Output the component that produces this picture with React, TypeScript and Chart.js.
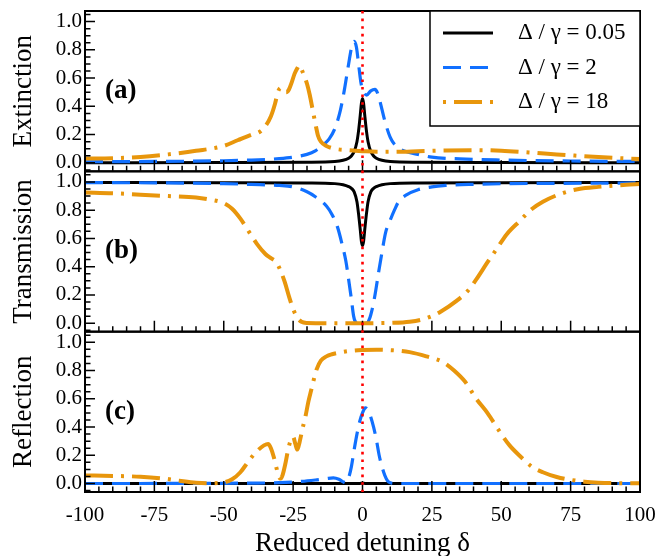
import React, { useEffect, useRef } from 'react';
import { Chart, registerables } from 'chart.js';

Chart.register(...registerables);

const FONT = "'Liberation Serif', 'Times New Roman', serif";

// ---- axes / labels ----
const xTicks = [-100, -75, -50, -25, 0, 25, 50, 75, 100];
const yTicks = [0, 0.2, 0.4, 0.6, 0.8, 1.0];
const panelTitles = ['Extinction', 'Transmission', 'Reflection'];
const panelTags = ['(a)', '(b)', '(c)'];
const seriesLabels = ['Δ / γ = 0.05', 'Δ / γ = 2', 'Δ / γ = 18'];
const xTitle = 'Reduced detuning δ';

// ---- data: [detuning, value] ----
const extinction005 = [[-100,0.001],[-50,0.002],[-20,0.004],[-10,0.009],[-7,0.018],[-5,0.033],[-4,0.049],[-3,0.08],[-2,0.15],[-1.4,0.23],[-0.8,0.34],[-0.4,0.42],[0,0.455],[0.4,0.42],[0.8,0.34],[1.4,0.23],[2,0.15],[3,0.08],[4,0.049],[5,0.033],[7,0.018],[10,0.009],[20,0.004],[50,0.002],[100,0.001]];
const extinction2 = [[-100,0.008],[-75,0.01],[-50,0.015],[-40,0.02],[-30,0.03],[-25,0.04],[-20,0.06],[-17,0.085],[-14,0.13],[-12,0.17],[-10,0.24],[-8,0.37],[-6.5,0.52],[-5,0.7],[-4,0.81],[-3,0.86],[-2.2,0.82],[-1.3,0.68],[-0.5,0.56],[0.5,0.5],[1.5,0.48],[3,0.51],[4.5,0.52],[5.5,0.49],[6.5,0.42],[8,0.3],[10,0.18],[12,0.12],[15,0.085],[20,0.06],[25,0.04],[35,0.028],[50,0.02],[75,0.013],[100,0.01]];
const extinction18 = [[-100,0.03],[-90,0.033],[-80,0.042],[-70,0.06],[-60,0.085],[-50,0.12],[-45,0.16],[-40,0.2],[-37,0.22],[-35,0.26],[-33,0.33],[-31.5,0.42],[-30.5,0.5],[-29.5,0.53],[-28.5,0.52],[-27.5,0.5],[-26.5,0.52],[-25.5,0.57],[-24.5,0.63],[-23.5,0.67],[-22.8,0.69],[-21.5,0.64],[-20,0.56],[-19,0.48],[-18,0.38],[-17,0.28],[-16,0.19],[-15,0.15],[-13,0.12],[-10,0.1],[-5,0.09],[0,0.083],[5,0.078],[10,0.078],[20,0.082],[30,0.088],[40,0.09],[50,0.086],[60,0.074],[70,0.06],[80,0.047],[90,0.036],[100,0.027]];

const transmission005 = [[-100,0.996],[-50,0.995],[-20,0.993],[-10,0.988],[-7,0.98],[-5,0.967],[-4,0.955],[-3,0.93],[-2,0.86],[-1.4,0.77],[-0.8,0.66],[-0.4,0.58],[0,0.55],[0.4,0.58],[0.8,0.66],[1.4,0.77],[2,0.86],[3,0.93],[4,0.955],[5,0.967],[7,0.98],[10,0.988],[20,0.993],[50,0.995],[100,0.996]];
const transmission2 = [[-100,0.995],[-70,0.993],[-50,0.988],[-40,0.982],[-30,0.975],[-25,0.965],[-20,0.93],[-17,0.895],[-13,0.83],[-11,0.77],[-9,0.68],[-7.5,0.57],[-6,0.44],[-5,0.31],[-4,0.17],[-3.2,0.05],[-2.5,0.01],[-1,0.0],[0,0.0],[1.5,0.0],[2.5,0.03],[3.5,0.1],[4.5,0.2],[5.8,0.36],[7,0.5],[8.3,0.64],[10,0.73],[11.5,0.8],[13,0.86],[16,0.91],[20,0.945],[25,0.965],[30,0.975],[40,0.983],[50,0.987],[70,0.99],[100,0.993]];
const transmission18 = [[-100,0.925],[-90,0.92],[-80,0.91],[-70,0.9],[-60,0.89],[-55,0.875],[-50,0.85],[-47,0.81],[-44,0.74],[-41,0.65],[-38,0.56],[-35,0.49],[-33,0.46],[-31,0.43],[-29.5,0.37],[-28,0.29],[-26.5,0.19],[-25,0.1],[-23.5,0.04],[-22,0.01],[-20,0.002],[-10,0.0],[0,0.0],[10,0.002],[17,0.01],[23,0.035],[28,0.08],[34,0.16],[38,0.23],[41,0.31],[45,0.43],[48.5,0.53],[52,0.63],[57,0.73],[60.5,0.8],[65,0.86],[72,0.92],[78,0.95],[85,0.965],[95,0.98],[100,0.985]];

const reflection005 = [[-100,0.0],[-1,0.001],[0,0.002],[1,0.001],[100,0.0]];
const reflection2 = [[-100,0.0],[-60,0.001],[-40,0.003],[-30,0.006],[-22,0.015],[-17,0.025],[-13,0.035],[-10.5,0.04],[-8.5,0.03],[-7,0.012],[-6,0.005],[-5,0.04],[-4,0.12],[-3,0.24],[-2,0.35],[-1,0.44],[0,0.5],[1,0.535],[2,0.52],[3,0.47],[4,0.4],[5,0.31],[6,0.2],[7,0.12],[8,0.06],[9,0.02],[10,0.005],[12,0.0],[100,0.0]];
const reflection18 = [[-100,0.057],[-90,0.054],[-80,0.048],[-72,0.036],[-66,0.02],[-60,0.006],[-55,0.002],[-50,0.008],[-47,0.03],[-44,0.08],[-41,0.16],[-38,0.23],[-35.5,0.27],[-34,0.28],[-33,0.25],[-32,0.19],[-31,0.11],[-30.2,0.05],[-29.5,0.035],[-28.8,0.06],[-27.8,0.14],[-26.8,0.24],[-25.8,0.31],[-25,0.33],[-24.2,0.28],[-23.5,0.24],[-22.6,0.3],[-21.6,0.39],[-20.5,0.48],[-19.5,0.58],[-18.5,0.66],[-17.5,0.74],[-16.5,0.81],[-15,0.87],[-13,0.9],[-11,0.915],[-8,0.928],[-4,0.94],[0,0.945],[5,0.947],[11,0.943],[17,0.93],[23,0.9],[29,0.86],[33,0.8],[37,0.72],[41,0.6],[45,0.5],[49,0.38],[53,0.27],[57,0.19],[61,0.12],[65,0.08],[70,0.046],[75,0.026],[80,0.013],[85,0.006],[90,0.003],[100,0.002]];

const panelIds = ['yA', 'yB', 'yC'];
const panelData = [
  [extinction005, extinction2, extinction18],
  [transmission005, transmission2, transmission18],
  [reflection005, reflection2, reflection18],
];

const seriesStyle = [
  { color: '#000000', width: 3, dash: [] as number[], legendOffset: 0, order: 3 },
  { color: '#1170ff', width: 3.2, dash: [18, 9], legendOffset: 0, order: 2 },
  { color: '#e8960c', width: 4, dash: [28, 8, 3, 8], legendOffset: 36, order: 1 },
];

const decorPlugin = {
  id: 'decor',
  afterDatasetsDraw(chart: any) {
    const ctx = chart.ctx;
    const ca = chart.chartArea;
    const xs = chart.scales.x;
    ctx.save();
    panelIds.forEach((id, i) => {
      const s = chart.scales[id];
      ctx.setLineDash([]);
      ctx.strokeStyle = '#000';
      ctx.lineWidth = 2;
      ctx.strokeRect(ca.left, s.top, ca.right - ca.left, s.bottom - s.top);
      ctx.lineWidth = 1.5;
      ctx.beginPath();
      for (let v = -95; v <= 95; v += 5) {
        const px = xs.getPixelForValue(v);
        const len = v % 25 === 0 ? 11 : 5.5;
        ctx.moveTo(px, s.bottom);
        ctx.lineTo(px, s.bottom - len);
      }
      for (let k = -1; k <= 21; k++) {
        const py = s.getPixelForValue(k * 0.05);
        if (py < s.top + 1 || py > s.bottom - 1) continue;
        const len = k % 4 === 0 ? 10 : 5.5;
        ctx.moveTo(ca.left, py);
        ctx.lineTo(ca.left + len, py);
      }
      ctx.stroke();
      ctx.font = `bold 27px ${FONT}`;
      ctx.fillStyle = '#000';
      ctx.textAlign = 'left';
      ctx.textBaseline = 'middle';
      ctx.fillText(panelTags[i], ca.left + 20, (s.top + s.bottom) / 2);
    });

    // reference line at zero detuning
    const x0 = xs.getPixelForValue(0);
    ctx.strokeStyle = '#ff0000';
    ctx.lineWidth = 2.6;
    ctx.setLineDash([2.6, 5]);
    ctx.beginPath();
    ctx.moveTo(x0, ca.top);
    ctx.lineTo(x0, ca.bottom);
    ctx.stroke();
    ctx.setLineDash([]);

    // legend box
    const lw = 210, lh = 115;
    const lx = ca.right - lw, ly = ca.top;
    ctx.fillStyle = '#fff';
    ctx.fillRect(lx, ly, lw, lh);
    ctx.strokeStyle = '#000';
    ctx.lineWidth = 1.5;
    ctx.strokeRect(lx, ly, lw, lh);
    const items = chart.data.datasets.filter((d: any) => d.yAxisID === 'yA');
    items.forEach((d: any, j: number) => {
      const y = ly + 22 + j * 34.5;
      ctx.strokeStyle = d.borderColor;
      ctx.lineWidth = d.borderWidth;
      ctx.setLineDash(d.borderDash || []);
      ctx.lineDashOffset = seriesStyle[j].legendOffset;
      ctx.beginPath();
      ctx.moveTo(lx + 13, y);
      ctx.lineTo(lx + 63, y);
      ctx.stroke();
      ctx.setLineDash([]);
      ctx.lineDashOffset = 0;
      ctx.fillStyle = '#000';
      ctx.font = `23px ${FONT}`;
      ctx.textAlign = 'left';
      ctx.textBaseline = 'middle';
      ctx.fillText(d.label, lx + 88, y);
    });
    ctx.restore();
  },
};

export default function App() {
  const canvasRef = useRef<HTMLCanvasElement | null>(null);

  useEffect(() => {
    if (!canvasRef.current) return;
    const datasets: any[] = [];
    seriesLabels.forEach((label, si) => {
      panelIds.forEach((pid, pi) => {
        const st = seriesStyle[si];
        datasets.push({
          label,
          data: panelData[pi][si].map(([x, y]) => ({ x, y })),
          yAxisID: pid,
          xAxisID: 'x',
          borderColor: st.color,
          backgroundColor: st.color,
          borderWidth: st.width,
          borderDash: st.dash,
          pointRadius: 0,
          fill: false,
          cubicInterpolationMode: 'monotone',
          order: st.order,
        });
      });
    });

    const yScale = (pi: number) => ({
      type: 'linear',
      position: 'left',
      stack: 'panels',
      stackWeight: 1,
      weight: 3 - pi,
      min: -0.06,
      max: 1.075,
      afterBuildTicks: (s: any) => {
        s.ticks = yTicks.map((v) => ({ value: v }));
      },
      afterFit: (s: any) => {
        s.width = 77;
        s.paddingTop = 0;
        s.paddingBottom = 0;
      },
      grid: { display: false, drawTicks: false },
      border: { display: false },
      ticks: {
        padding: 3,
        color: '#000',
        autoSkip: false,
        font: { family: FONT, size: 21 },
        callback: (v: any) => Number(v).toFixed(1),
      },
      title: {
        display: true,
        text: panelTitles[pi],
        color: '#000',
        font: { family: FONT, size: 27 },
        padding: 0,
      },
    });

    const chart = new Chart(canvasRef.current, {
      type: 'line',
      data: { datasets },
      options: {
        responsive: false,
        animation: false,
        devicePixelRatio: 1,
        layout: { padding: { left: 8, top: 11, right: 28, bottom: 0 } },
        plugins: { legend: { display: false }, tooltip: { enabled: false } },
        scales: {
          x: {
            type: 'linear',
            position: 'bottom',
            min: -100,
            max: 100,
            afterBuildTicks: (s: any) => {
              s.ticks = xTicks.map((v) => ({ value: v }));
            },
            afterFit: (s: any) => {
              s.height = 64;
              s.paddingLeft = 0;
              s.paddingRight = 0;
            },
            grid: { display: false, drawTicks: false },
            border: { display: false },
            ticks: {
              padding: 11,
              color: '#000',
              maxRotation: 0,
              autoSkip: false,
              font: { family: FONT, size: 21 },
              callback: (v: any) => String(v),
            },
            title: {
              display: true,
              text: xTitle,
              color: '#000',
              font: { family: FONT, size: 27, lineHeight: 1 },
              padding: { top: 0, bottom: -1.5 },
            },
          },
          yA: yScale(0),
          yB: yScale(1),
          yC: yScale(2),
        } as any,
      },
      plugins: [decorPlugin],
    } as any);
    return () => chart.destroy();
  }, []);

  return (
    <div style={{ position: 'fixed', left: 0, top: 0, width: 668, height: 556, background: '#fff' }}>
      <canvas ref={canvasRef} width={668} height={556} style={{ display: 'block' }} />
    </div>
  );
}
